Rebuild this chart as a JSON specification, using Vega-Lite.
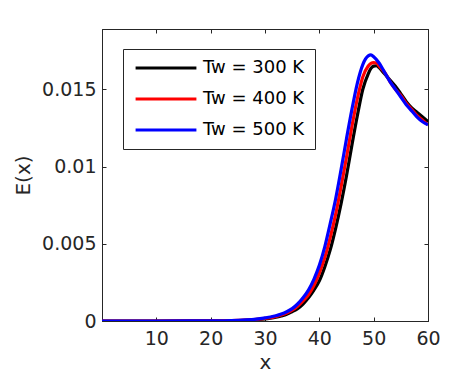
{
  "$schema": "https://vega.github.io/schema/vega-lite/v6.json",
  "width": 326,
  "height": 292,
  "autosize": "none",
  "padding": {"left": 102, "top": 29, "right": 44, "bottom": 63},
  "background": "white",
  "config": {
    "view": {"stroke": "#262626", "strokeWidth": 1},
    "font": "DejaVu Sans",
    "axis": {
      "domainColor": "#262626",
      "tickColor": "#262626",
      "labelColor": "#262626",
      "titleColor": "#262626",
      "labelFont": "DejaVu Sans",
      "titleFont": "DejaVu Sans",
      "labelFontSize": 19,
      "titleFontSize": 20,
      "titleFontWeight": "normal",
      "grid": false,
      "tickSize": -4,
      "labelFlush": false
    }
  },
  "resolve": {"axis": {"x": "independent", "y": "independent"}},
  "data": {
    "values": [
      {"x": 0, "E": 0, "s": "Tw = 300 K"},
      {"x": 10, "E": 0, "s": "Tw = 300 K"},
      {"x": 20, "E": 0.00001, "s": "Tw = 300 K"},
      {"x": 25, "E": 0.00003, "s": "Tw = 300 K"},
      {"x": 28, "E": 0.00008, "s": "Tw = 300 K"},
      {"x": 30, "E": 0.00014, "s": "Tw = 300 K"},
      {"x": 31, "E": 0.00019, "s": "Tw = 300 K"},
      {"x": 32, "E": 0.00025, "s": "Tw = 300 K"},
      {"x": 33, "E": 0.00033, "s": "Tw = 300 K"},
      {"x": 34, "E": 0.00043, "s": "Tw = 300 K"},
      {"x": 35, "E": 0.0006, "s": "Tw = 300 K"},
      {"x": 36, "E": 0.0008, "s": "Tw = 300 K"},
      {"x": 37, "E": 0.0011, "s": "Tw = 300 K"},
      {"x": 38, "E": 0.0015, "s": "Tw = 300 K"},
      {"x": 39, "E": 0.002, "s": "Tw = 300 K"},
      {"x": 40, "E": 0.0026, "s": "Tw = 300 K"},
      {"x": 41, "E": 0.0035, "s": "Tw = 300 K"},
      {"x": 42, "E": 0.0046, "s": "Tw = 300 K"},
      {"x": 43, "E": 0.006, "s": "Tw = 300 K"},
      {"x": 44, "E": 0.0076, "s": "Tw = 300 K"},
      {"x": 45, "E": 0.0094, "s": "Tw = 300 K"},
      {"x": 46, "E": 0.0114, "s": "Tw = 300 K"},
      {"x": 47, "E": 0.0133, "s": "Tw = 300 K"},
      {"x": 48, "E": 0.015, "s": "Tw = 300 K"},
      {"x": 49, "E": 0.016, "s": "Tw = 300 K"},
      {"x": 49.5, "E": 0.01635, "s": "Tw = 300 K"},
      {"x": 50, "E": 0.0165, "s": "Tw = 300 K"},
      {"x": 50.5, "E": 0.01652, "s": "Tw = 300 K"},
      {"x": 51, "E": 0.0164, "s": "Tw = 300 K"},
      {"x": 52, "E": 0.0160, "s": "Tw = 300 K"},
      {"x": 53, "E": 0.0156, "s": "Tw = 300 K"},
      {"x": 54, "E": 0.0152, "s": "Tw = 300 K"},
      {"x": 55, "E": 0.0147, "s": "Tw = 300 K"},
      {"x": 56, "E": 0.0142, "s": "Tw = 300 K"},
      {"x": 57, "E": 0.0138, "s": "Tw = 300 K"},
      {"x": 58, "E": 0.0135, "s": "Tw = 300 K"},
      {"x": 59, "E": 0.0132, "s": "Tw = 300 K"},
      {"x": 60, "E": 0.0129, "s": "Tw = 300 K"},

      {"x": 0, "E": 0, "s": "Tw = 400 K"},
      {"x": 10, "E": 0, "s": "Tw = 400 K"},
      {"x": 20, "E": 0.00001, "s": "Tw = 400 K"},
      {"x": 25, "E": 0.00004, "s": "Tw = 400 K"},
      {"x": 28, "E": 0.00009, "s": "Tw = 400 K"},
      {"x": 30, "E": 0.00017, "s": "Tw = 400 K"},
      {"x": 31, "E": 0.00022, "s": "Tw = 400 K"},
      {"x": 32, "E": 0.0003, "s": "Tw = 400 K"},
      {"x": 33, "E": 0.00039, "s": "Tw = 400 K"},
      {"x": 34, "E": 0.00052, "s": "Tw = 400 K"},
      {"x": 35, "E": 0.0007, "s": "Tw = 400 K"},
      {"x": 36, "E": 0.00095, "s": "Tw = 400 K"},
      {"x": 37, "E": 0.0013, "s": "Tw = 400 K"},
      {"x": 38, "E": 0.0017, "s": "Tw = 400 K"},
      {"x": 39, "E": 0.0023, "s": "Tw = 400 K"},
      {"x": 40, "E": 0.0031, "s": "Tw = 400 K"},
      {"x": 41, "E": 0.0041, "s": "Tw = 400 K"},
      {"x": 42, "E": 0.0054, "s": "Tw = 400 K"},
      {"x": 43, "E": 0.0069, "s": "Tw = 400 K"},
      {"x": 44, "E": 0.0087, "s": "Tw = 400 K"},
      {"x": 45, "E": 0.0106, "s": "Tw = 400 K"},
      {"x": 46, "E": 0.0126, "s": "Tw = 400 K"},
      {"x": 47, "E": 0.0144, "s": "Tw = 400 K"},
      {"x": 48, "E": 0.0158, "s": "Tw = 400 K"},
      {"x": 49, "E": 0.0165, "s": "Tw = 400 K"},
      {"x": 49.5, "E": 0.01668, "s": "Tw = 400 K"},
      {"x": 50, "E": 0.01673, "s": "Tw = 400 K"},
      {"x": 50.5, "E": 0.0167, "s": "Tw = 400 K"},
      {"x": 51, "E": 0.0165, "s": "Tw = 400 K"},
      {"x": 52, "E": 0.0161, "s": "Tw = 400 K"},
      {"x": 53, "E": 0.0155, "s": "Tw = 400 K"},
      {"x": 54, "E": 0.0150, "s": "Tw = 400 K"},
      {"x": 55, "E": 0.0146, "s": "Tw = 400 K"},
      {"x": 56, "E": 0.0141, "s": "Tw = 400 K"},
      {"x": 57, "E": 0.0137, "s": "Tw = 400 K"},
      {"x": 58, "E": 0.0133, "s": "Tw = 400 K"},
      {"x": 59, "E": 0.0130, "s": "Tw = 400 K"},
      {"x": 60, "E": 0.0127, "s": "Tw = 400 K"},

      {"x": 0, "E": 0, "s": "Tw = 500 K"},
      {"x": 10, "E": 0, "s": "Tw = 500 K"},
      {"x": 20, "E": 0.00001, "s": "Tw = 500 K"},
      {"x": 25, "E": 0.00005, "s": "Tw = 500 K"},
      {"x": 28, "E": 0.0001, "s": "Tw = 500 K"},
      {"x": 30, "E": 0.0002, "s": "Tw = 500 K"},
      {"x": 31, "E": 0.00026, "s": "Tw = 500 K"},
      {"x": 32, "E": 0.00034, "s": "Tw = 500 K"},
      {"x": 33, "E": 0.00045, "s": "Tw = 500 K"},
      {"x": 34, "E": 0.0006, "s": "Tw = 500 K"},
      {"x": 35, "E": 0.0008, "s": "Tw = 500 K"},
      {"x": 36, "E": 0.0011, "s": "Tw = 500 K"},
      {"x": 37, "E": 0.0015, "s": "Tw = 500 K"},
      {"x": 38, "E": 0.002, "s": "Tw = 500 K"},
      {"x": 39, "E": 0.0027, "s": "Tw = 500 K"},
      {"x": 40, "E": 0.0036, "s": "Tw = 500 K"},
      {"x": 41, "E": 0.0048, "s": "Tw = 500 K"},
      {"x": 42, "E": 0.0063, "s": "Tw = 500 K"},
      {"x": 43, "E": 0.0079, "s": "Tw = 500 K"},
      {"x": 44, "E": 0.0098, "s": "Tw = 500 K"},
      {"x": 45, "E": 0.0118, "s": "Tw = 500 K"},
      {"x": 46, "E": 0.0137, "s": "Tw = 500 K"},
      {"x": 47, "E": 0.0154, "s": "Tw = 500 K"},
      {"x": 48, "E": 0.0166, "s": "Tw = 500 K"},
      {"x": 49, "E": 0.01716, "s": "Tw = 500 K"},
      {"x": 49.5, "E": 0.01722, "s": "Tw = 500 K"},
      {"x": 50, "E": 0.0171, "s": "Tw = 500 K"},
      {"x": 51, "E": 0.0167, "s": "Tw = 500 K"},
      {"x": 52, "E": 0.0161, "s": "Tw = 500 K"},
      {"x": 53, "E": 0.0155, "s": "Tw = 500 K"},
      {"x": 54, "E": 0.0150, "s": "Tw = 500 K"},
      {"x": 55, "E": 0.0145, "s": "Tw = 500 K"},
      {"x": 56, "E": 0.0140, "s": "Tw = 500 K"},
      {"x": 57, "E": 0.0136, "s": "Tw = 500 K"},
      {"x": 58, "E": 0.0132, "s": "Tw = 500 K"},
      {"x": 59, "E": 0.0129, "s": "Tw = 500 K"},
      {"x": 60, "E": 0.0127, "s": "Tw = 500 K"}
    ]
  },
  "layer": [
    {
      "mark": {"type": "line", "strokeWidth": 3.2, "interpolate": "monotone", "clip": true},
      "encoding": {
        "x": {
          "field": "x", "type": "quantitative",
          "scale": {"domain": [0, 60], "nice": false, "zero": false},
          "axis": {"orient": "bottom", "title": "x", "values": [10, 20, 30, 40, 50, 60], "labelPadding": 12, "titlePadding": 4}
        },
        "y": {
          "field": "E", "type": "quantitative",
          "scale": {"domain": [0, 0.0189], "nice": false},
          "axis": {"orient": "left", "title": "E(x)", "values": [0, 0.005, 0.01, 0.015], "format": "~g", "labelPadding": 10, "titlePadding": 8}
        },
        "color": {
          "field": "s", "type": "nominal",
          "scale": {"domain": ["Tw = 300 K", "Tw = 400 K", "Tw = 500 K"], "range": ["#000000", "#ff0000", "#0000ff"]},
          "legend": {
            "title": null,
            "orient": "none",
            "legendX": 21,
            "legendY": 20,
            "symbolType": "M-10,0H10",
            "symbolSize": 37,
            "symbolStrokeWidth": 3,
            "symbolOffset": 24,
            "labelOffset": 28,
            "labelFontSize": 18,
            "labelFont": "DejaVu Sans",
            "labelColor": "#000000",
            "strokeColor": "#262626",
            "fillColor": "white",
            "padding": 10,
            "rowPadding": 13
          }
        }
      }
    },
    {
      "mark": {"type": "line", "opacity": 0},
      "encoding": {
        "x": {"field": "x", "type": "quantitative", "axis": {"orient": "top", "labels": false, "title": null, "values": [10, 20, 30, 40, 50, 60]}},
        "y": {"field": "E", "type": "quantitative", "axis": {"orient": "right", "labels": false, "title": null, "values": [0, 0.005, 0.01, 0.015]}}
      }
    }
  ]
}
